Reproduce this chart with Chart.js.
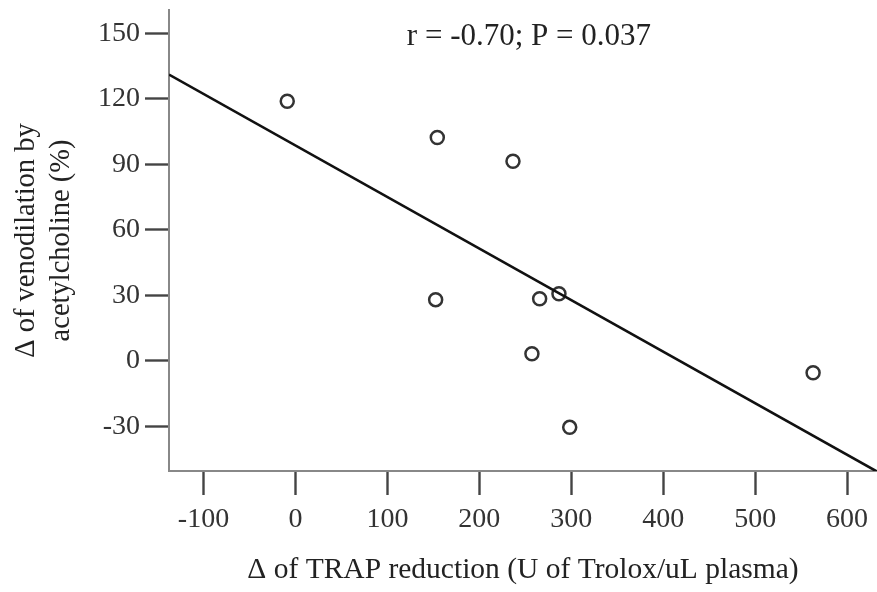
<!DOCTYPE html>
<html>
<head>
<meta charset="utf-8">
<script src="https://cdn.jsdelivr.net/npm/chart.js@4.4.1/dist/chart.umd.min.js"></script>
<style>
    body { margin: 0; background: #fff; }
    #wrap { width: 877px; height: 592px; }
</style>
</head>
<body>
<div id="wrap"><canvas id="scatterChart"></canvas></div>
<script>
// values
const trapReduction = [-8.9, 154.3, 236.6, 152.5, 265.6, 286.6, 257.2, 298.3, 563.0];
const venodilation = [118.9, 102.3, 91.4, 28.0, 28.4, 30.7, 3.2, -30.5, -5.5];
const xTickValues = [-100, 0, 100, 200, 300, 400, 500, 600];
const yTickValues = [-30, 0, 30, 60, 90, 120, 150];
const xRange = [-137.5, 632.5];
const yRange = [-50.5, 160.7];
const statsLabel = "r = -0.70; P = 0.037";

// least squares fit line through the points
function fitLine(xs, ys) {
    const n = xs.length;
    const mx = xs.reduce((a, b) => a + b, 0) / n;
    const my = ys.reduce((a, b) => a + b, 0) / n;
    let sxy = 0, sxx = 0;
    for (let i = 0; i < n; i++) {
        sxy += (xs[i] - mx) * (ys[i] - my);
        sxx += (xs[i] - mx) * (xs[i] - mx);
    }
    const slope = sxy / sxx;
    return xRange.map((x) => ({ x: x, y: my + slope * (x - mx) }));
}

const points = trapReduction.map((x, i) => ({ x: x, y: venodilation[i] }));
const serif = "'Liberation Serif', 'DejaVu Serif', serif";

const statsText = {
    id: "statsText",
    afterDraw(chart) {
        const ctx = chart.ctx;
        const xs = chart.scales.x;
        ctx.save();
        ctx.font = "31px " + serif;
        ctx.fillStyle = "#222";
        ctx.textAlign = "center";
        ctx.textBaseline = "middle";
        ctx.fillText(statsLabel, xs.getPixelForValue(254), chart.chartArea.top + 27);
        ctx.restore();
    },
};

const ctx = document.getElementById("scatterChart").getContext("2d");
new Chart(ctx, {
    type: "scatter",
    data: {
        datasets: [
            {
                type: "line",
                data: fitLine(trapReduction, venodilation),
                borderColor: "#111",
                borderWidth: 2.6,
                pointRadius: 0,
                fill: false,
            },
            {
                data: points,
                pointRadius: 6.5,
                pointBorderWidth: 2.5,
                pointBorderColor: "#333",
                pointBackgroundColor: "#fff",
            },
            {
                data: points, // centre dot of each marker
                pointRadius: 1.2,
                pointBorderWidth: 0,
                pointBackgroundColor: "#777",
            },
        ],
    },
    options: {
        responsive: true,
        maintainAspectRatio: false,
        animation: false,
        layout: { autoPadding: false, padding: { top: 10, right: 0, left: 0, bottom: 0 } },
        plugins: {
            legend: { display: false },
            tooltip: { enabled: false },
        },
        scales: {
            x: {
                type: "linear",
                min: xRange[0],
                max: xRange[1],
                afterBuildTicks: (scale) => {
                    scale.ticks = xTickValues.map((v) => ({ value: v }));
                },
                afterFit: (scale) => {
                    scale.height = 121;
                    scale.paddingLeft = 0;
                    scale.paddingRight = 0;
                },
                grid: {
                    drawOnChartArea: false,
                    tickLength: 24,
                    tickColor: "#444",
                    tickWidth: 2.4,
                },
                border: { color: "#888", width: 2 },
                ticks: {
                    padding: 8,
                    color: "#333",
                    font: { family: serif, size: 28 },
                },
                title: {
                    display: true,
                    text: "\u0394 of TRAP reduction (U of Trolox/uL plasma)",
                    color: "#222",
                    font: { family: serif, size: 29.5, lineHeight: 1 },
                    padding: { top: 0, bottom: 7 },
                },
            },
            y: {
                type: "linear",
                min: yRange[0],
                max: yRange[1],
                afterBuildTicks: (scale) => {
                    scale.ticks = yTickValues.map((v) => ({ value: v }));
                },
                afterFit: (scale) => {
                    scale.width = 169;
                    scale.paddingTop = 0;
                    scale.paddingBottom = 0;
                },
                grid: {
                    drawOnChartArea: false,
                    tickLength: 24,
                    tickColor: "#444",
                    tickWidth: 2.4,
                },
                border: { color: "#888", width: 2 },
                ticks: {
                    padding: 5,
                    color: "#333",
                    font: { family: serif, size: 28 },
                },
                title: {
                    display: true,
                    text: ["\u0394 of venodilation by", "acetylcholine (%)"],
                    color: "#222",
                    font: { family: serif, size: 28.5, lineHeight: 1.22 },
                    padding: { top: 9, bottom: 0 },
                },
            },
        },
    },
    plugins: [statsText],
});
</script>
</body>
</html>
